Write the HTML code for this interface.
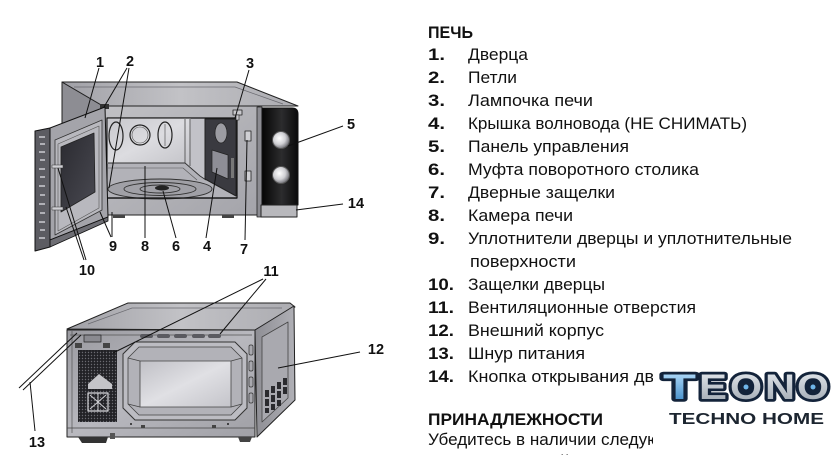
<!DOCTYPE html>
<html><head><meta charset="utf-8"><style>
html,body{margin:0;padding:0;background:#fff;}
svg{display:block;}
</style></head><body>
<svg width="840" height="475" viewBox="0 0 840 475" xmlns="http://www.w3.org/2000/svg" font-family="'Liberation Sans', sans-serif">
<defs>
<linearGradient id="gTop" x1="0" y1="0" x2="1" y2="0"><stop offset="0" stop-color="#a0a0a6"/><stop offset="0.5" stop-color="#c2c2c6"/><stop offset="1" stop-color="#acacb1"/></linearGradient>
<linearGradient id="gFront" x1="0" y1="0" x2="1" y2="1"><stop offset="0" stop-color="#c0c0c4"/><stop offset="1" stop-color="#a4a4aa"/></linearGradient>
<linearGradient id="gBack" x1="0" y1="0" x2="1" y2="1"><stop offset="0" stop-color="#c8c8cd"/><stop offset="0.5" stop-color="#dcdce0"/><stop offset="1" stop-color="#c4c4c9"/></linearGradient>
<linearGradient id="gBlack" x1="0" y1="0" x2="1" y2="0"><stop offset="0" stop-color="#050505"/><stop offset="0.55" stop-color="#2c2c2e"/><stop offset="1" stop-color="#0a0a0a"/></linearGradient>
<radialGradient id="gKnob" cx="0.4" cy="0.4" r="0.6"><stop offset="0" stop-color="#ffffff"/><stop offset="0.6" stop-color="#d0d0d4"/><stop offset="1" stop-color="#77777d"/></radialGradient>
<linearGradient id="gWin" x1="0" y1="0" x2="1" y2="1"><stop offset="0" stop-color="#2a2a30"/><stop offset="1" stop-color="#4a4a52"/></linearGradient>
<linearGradient id="gBF" x1="0" y1="0" x2="1" y2="1"><stop offset="0" stop-color="#9a9aa0"/><stop offset="0.5" stop-color="#b8b8be"/><stop offset="1" stop-color="#a0a0a6"/></linearGradient>
<linearGradient id="gInner" x1="0" y1="0" x2="1" y2="1"><stop offset="0" stop-color="#c0c0c6"/><stop offset="0.5" stop-color="#e0e0e4"/><stop offset="1" stop-color="#c4c4ca"/></linearGradient>
<linearGradient id="gSide" x1="0" y1="0" x2="1" y2="0"><stop offset="0" stop-color="#8e8e94"/><stop offset="1" stop-color="#b0b0b6"/></linearGradient>
<linearGradient id="gLogoT" x1="0" y1="0" x2="0" y2="1"><stop offset="0" stop-color="#bfe4ff"/><stop offset="1" stop-color="#2f7fc0"/></linearGradient>
<linearGradient id="gLogoS" x1="0" y1="0" x2="0" y2="1"><stop offset="0" stop-color="#e8ecf0"/><stop offset="1" stop-color="#9aa3ad"/></linearGradient>
<pattern id="dots" width="3" height="3" patternUnits="userSpaceOnUse"><rect width="3" height="3" fill="#222226"/><circle cx="1.5" cy="1.5" r="0.7" fill="#6a6a70"/></pattern>
<clipPath id="tc"><rect x="420" y="0" width="233" height="455"/></clipPath>
</defs>

<!-- ============ TOP MICROWAVE ============ -->
<g stroke-linejoin="round">
<polygon points="62,82 103,106 103,214 62,196" fill="#8d8d93" stroke="#222"/>
<polygon points="62,82 237,82 298,106 103,106" fill="url(#gTop)" stroke="#222"/>
<path d="M74,87 L235,87 L283,104" fill="none" stroke="#6a6a70" stroke-width="0.7"/>
<rect x="103" y="106" width="156" height="109" fill="url(#gFront)" stroke="#222"/>
<rect x="107" y="118" width="130" height="80" fill="#c2c2c8" stroke="#111" stroke-width="1.2"/>
<rect x="107.6" y="118.6" width="83" height="45" fill="url(#gBack)"/>
<line x1="185" y1="119" x2="185" y2="163" stroke="#444" stroke-width="0.8"/>
<line x1="190" y1="119" x2="190" y2="166" stroke="#444" stroke-width="0.8"/>
<polygon points="108,163 185,163 200,176 236,197 108,197" fill="#b2b2b8"/>
<path d="M108,163 L185,163 L200,176 L206,180" fill="none" stroke="#333" stroke-width="0.9"/>
<path d="M108,168 L183,168 L197,180" fill="none" stroke="#555" stroke-width="0.6"/>
<polygon points="205,119 236,119 236,196 205,179" fill="#3a3a40" stroke="#222"/>
<ellipse cx="221" cy="133" rx="6" ry="10" fill="#9c9ca2" stroke="#222" stroke-width="0.7"/>
<polygon points="212,150 228,155 228,179 212,172" fill="#8e8e96" stroke="#222" stroke-width="0.7"/>
<rect x="231" y="158" width="3" height="20" fill="#777"/>
<ellipse cx="160" cy="189" rx="52" ry="10" fill="#a0a0a6" stroke="#333"/>
<ellipse cx="160" cy="189" rx="36" ry="6.5" fill="none" stroke="#333" stroke-width="0.9"/>
<ellipse cx="160" cy="189" rx="20" ry="4" fill="none" stroke="#333" stroke-width="0.9"/>
<ellipse cx="162" cy="188" rx="7" ry="2.5" fill="#222"/>
<line x1="107" y1="198" x2="237" y2="198" stroke="#111" stroke-width="1.2"/>
<ellipse cx="116" cy="136" rx="7" ry="14" fill="none" stroke="#222" stroke-width="1.2"/>
<circle cx="140" cy="135" r="10" fill="none" stroke="#222" stroke-width="1.2"/>
<circle cx="140" cy="135" r="8" fill="none" stroke="#555" stroke-width="0.6"/>
<ellipse cx="165" cy="135" rx="7" ry="13" fill="none" stroke="#222" stroke-width="1.2"/>
<line x1="165" y1="124" x2="165" y2="146" stroke="#444" stroke-width="0.6"/>
<rect x="245" y="131" width="6" height="10" fill="#cfcfd3" stroke="#222" stroke-width="0.8"/>
<rect x="245" y="171" width="6" height="10" fill="#cfcfd3" stroke="#222" stroke-width="0.8"/>
<rect x="233" y="110" width="9" height="5" fill="#c8c8cc" stroke="#222" stroke-width="0.8"/>
<rect x="236" y="115" width="3" height="5" fill="#c8c8cc" stroke="#222" stroke-width="0.6"/>
<rect x="257" y="107" width="5" height="110" fill="#8c8c92" stroke="#222" stroke-width="0.8"/>
<path d="M262,108 L292,108 Q298,108 298,114 L298,205 L262,205 Z" fill="url(#gBlack)" stroke="#111"/>
<circle cx="281" cy="140" r="8.5" fill="url(#gKnob)" stroke="#555"/>
<circle cx="281" cy="175" r="8.5" fill="url(#gKnob)" stroke="#555"/>
<rect x="261" y="205" width="36" height="12" fill="#b8b8bc" stroke="#222"/>
<rect x="113" y="215" width="12" height="3" fill="#444"/>
<rect x="222" y="215" width="12" height="3" fill="#444"/>
<rect x="100" y="104" width="9" height="5" fill="#333"/>
<polygon points="50,128 105,107 108,217 50,240" fill="#a4a4aa" stroke="#111"/>
<polygon points="50,240 108,217 108,221 50,247" fill="#6e6e74" stroke="#111" stroke-width="0.8"/>
<polygon points="35,131 50,128 50,247 35,251" fill="#5c5c62" stroke="#111"/>
<g fill="#b0b0b6">
<rect x="39" y="136" width="6" height="2"/><rect x="40" y="143" width="5" height="2"/><rect x="39" y="151" width="6" height="2"/><rect x="40" y="159" width="5" height="2"/><rect x="39" y="168" width="6" height="2"/><rect x="40" y="176" width="5" height="2"/><rect x="39" y="185" width="6" height="2"/><rect x="40" y="194" width="5" height="2"/><rect x="39" y="203" width="6" height="2"/><rect x="40" y="212" width="5" height="2"/><rect x="39" y="221" width="6" height="2"/><rect x="40" y="229" width="5" height="2"/><rect x="39" y="237" width="6" height="2"/>
</g>
<polygon points="55,140 102,120 102,210 55,235" fill="#b8b8be" stroke="#333" stroke-width="0.8"/>
<polygon points="58,144 99,126 99,208 58,231" fill="none" stroke="#555" stroke-width="0.6"/>
<polygon points="61,147 94,133 95,192 61,212" fill="url(#gWin)" stroke="#222" stroke-width="0.8"/>
<rect x="52" y="165" width="11" height="3" fill="#d0d0d4" stroke="#333" stroke-width="0.5"/>
<rect x="52" y="207" width="11" height="3" fill="#d0d0d4" stroke="#333" stroke-width="0.5"/>
</g>

<g stroke="#111" stroke-width="1" fill="none">
<line x1="99" y1="68" x2="85" y2="118"/>
<line x1="127" y1="68" x2="104" y2="107"/>
<line x1="129" y1="68" x2="109" y2="188"/>
<line x1="249" y1="70" x2="235" y2="118"/>
<line x1="343" y1="126" x2="288" y2="146"/>
<line x1="343" y1="204" x2="296" y2="210"/>
<line x1="111" y1="237" x2="100" y2="212"/>
<line x1="112" y1="237" x2="112" y2="212"/>
<line x1="145" y1="238" x2="145" y2="166"/>
<line x1="176" y1="238" x2="163" y2="191"/>
<line x1="206" y1="238" x2="217" y2="168"/>
<line x1="245" y1="240" x2="247" y2="140"/>
<line x1="86" y1="260" x2="58" y2="168"/>
<line x1="84" y1="260" x2="66" y2="207"/>
</g>

<!-- ============ BOTTOM MICROWAVE ============ -->
<g stroke-linejoin="round">
<polygon points="67,329 128,303 290,303 295,307 255,330" fill="url(#gTop)" stroke="#222"/>
<path d="M88,324 L132,308 L282,308" fill="none" stroke="#6a6a70" stroke-width="0.7"/>
<rect x="67" y="330" width="188" height="107" fill="url(#gBF)" stroke="#222"/>
<line x1="72" y1="331" x2="72" y2="433" stroke="#555" stroke-width="0.7"/>
<line x1="70" y1="335" x2="252" y2="335" stroke="#555" stroke-width="0.7"/>
<g fill="#5a5a60">
<rect x="140" y="334" width="13" height="4" rx="2"/><rect x="157" y="334" width="13" height="4" rx="2"/><rect x="174" y="334" width="13" height="4" rx="2"/><rect x="192" y="334" width="13" height="4" rx="2"/><rect x="208" y="334" width="13" height="4" rx="2"/>
</g>
<rect x="84" y="335" width="17" height="7" fill="#8a8a90" stroke="#222" stroke-width="0.7"/>
<rect x="75" y="343" width="7" height="5" fill="#444"/>
<rect x="103" y="343" width="7" height="5" fill="#444"/>
<rect x="78" y="350" width="39" height="72" fill="url(#dots)"/>
<polygon points="88,384 99,374 112,384 112,389 88,389" fill="#c4c4c8"/>
<rect x="88" y="393" width="20" height="18" fill="none" stroke="#d8d8dc" stroke-width="1.2"/>
<path d="M90,395 L106,409 M106,395 L90,409 M98,393 L98,411" stroke="#d0d0d4" stroke-width="1"/>
<path d="M135,342 L235,342 L247,354 L247,408 L235,420 L135,420 L123,408 L123,354 Z" fill="#bcbcc2" stroke="#333"/>
<path d="M139,347 L231,347 L242,358 L242,404 L231,415 L139,415 L128,404 L128,358 Z" fill="#b2b2b8" stroke="#444" stroke-width="0.8"/>
<rect x="140" y="361" width="91" height="46" fill="url(#gInner)" stroke="#444" stroke-width="0.8"/>
<path d="M128,358 L140,361 M242,358 L231,361 M242,404 L231,407 M128,404 L140,407" stroke="#444" stroke-width="0.8"/>
<g fill="#a8a8ae" stroke="#333" stroke-width="0.7">
<rect x="249" y="345" width="4" height="10" rx="1.5"/><rect x="249" y="361" width="4" height="10" rx="1.5"/><rect x="249" y="377" width="4" height="10" rx="1.5"/><rect x="249" y="393" width="4" height="10" rx="1.5"/>
</g>
<line x1="67" y1="428" x2="255" y2="428" stroke="#444" stroke-width="0.8"/>
<circle cx="131" cy="424" r="1" fill="#222"/><circle cx="228" cy="424" r="1" fill="#222"/>
<rect x="141" y="425" width="4" height="3" fill="#444"/><rect x="212" y="425" width="4" height="3" fill="#444"/>
<path d="M78,437 L108,437 L106,443 L82,443 Z" fill="#333"/>
<rect x="110" y="433" width="5" height="6" fill="#555"/>
<path d="M238,437 L252,437 L250,442 L240,442 Z" fill="#444"/>
<polygon points="255,330 294,306 295,400 257,437" fill="url(#gSide)" stroke="#222"/>
<polygon points="262,337 288,322 288,398 262,422" fill="#a9a9af" stroke="#444" stroke-width="0.8"/>
<g fill="#2a2a2e">
<rect x="265" y="390" width="4" height="7"/><rect x="271" y="386" width="4" height="7"/><rect x="277" y="382" width="4" height="7"/><rect x="283" y="378" width="4" height="7"/>
<rect x="265" y="399" width="4" height="7"/><rect x="271" y="395" width="4" height="7"/><rect x="277" y="391" width="4" height="7"/><rect x="283" y="387" width="4" height="7"/>
<rect x="265" y="408" width="4" height="5"/><rect x="271" y="404" width="4" height="6"/><rect x="277" y="400" width="4" height="6"/>
</g>
</g>

<g stroke="#111" stroke-width="1" fill="none">
<line x1="266" y1="279" x2="220" y2="334"/>
<line x1="263" y1="279" x2="113" y2="353"/>
<line x1="360" y1="352" x2="278" y2="368"/>
<line x1="35" y1="431" x2="30" y2="382"/>
<line x1="77" y1="333" x2="19" y2="388"/>
<line x1="81" y1="335" x2="23" y2="390"/>
</g>

<g font-weight="bold" font-size="14.5" fill="#111" text-anchor="middle">
<text x="100" y="67">1</text>
<text x="130" y="66">2</text>
<text x="250" y="68">3</text>
<text x="351" y="129">5</text>
<text x="356" y="208">14</text>
<text x="113" y="251">9</text>
<text x="145" y="251">8</text>
<text x="176" y="251">6</text>
<text x="207" y="251">4</text>
<text x="244" y="254">7</text>
<text x="87" y="275">10</text>
<text x="271" y="276">11</text>
<text x="376" y="354">12</text>
<text x="37" y="447">13</text>
</g>

<!-- ============ TEXT LIST ============ -->
<g fill="#111" font-size="16.5">
<text x="428" y="38" font-weight="bold" textLength="45" lengthAdjust="spacingAndGlyphs">ПЕЧЬ</text>
<g font-weight="bold">
<text x="428" y="60" textLength="17" lengthAdjust="spacingAndGlyphs">1.</text>
<text x="428" y="83" textLength="17" lengthAdjust="spacingAndGlyphs">2.</text>
<text x="428" y="106" textLength="17" lengthAdjust="spacingAndGlyphs">3.</text>
<text x="428" y="129" textLength="17" lengthAdjust="spacingAndGlyphs">4.</text>
<text x="428" y="152" textLength="17" lengthAdjust="spacingAndGlyphs">5.</text>
<text x="428" y="175" textLength="17" lengthAdjust="spacingAndGlyphs">6.</text>
<text x="428" y="198" textLength="17" lengthAdjust="spacingAndGlyphs">7.</text>
<text x="428" y="221" textLength="17" lengthAdjust="spacingAndGlyphs">8.</text>
<text x="428" y="244" textLength="17" lengthAdjust="spacingAndGlyphs">9.</text>
<text x="428" y="290" textLength="26" lengthAdjust="spacingAndGlyphs">10.</text>
<text x="428" y="313" textLength="26" lengthAdjust="spacingAndGlyphs">11.</text>
<text x="428" y="336" textLength="26" lengthAdjust="spacingAndGlyphs">12.</text>
<text x="428" y="359" textLength="26" lengthAdjust="spacingAndGlyphs">13.</text>
<text x="428" y="382" textLength="26" lengthAdjust="spacingAndGlyphs">14.</text>
</g>
<text x="468" y="60" textLength="60" lengthAdjust="spacingAndGlyphs">Дверца</text>
<text x="468" y="83" textLength="49" lengthAdjust="spacingAndGlyphs">Петли</text>
<text x="468" y="106" textLength="125" lengthAdjust="spacingAndGlyphs">Лампочка печи</text>
<text x="468" y="129" textLength="279" lengthAdjust="spacingAndGlyphs">Крышка волновода (НЕ СНИМАТЬ)</text>
<text x="468" y="152" textLength="161" lengthAdjust="spacingAndGlyphs">Панель управления</text>
<text x="468" y="175" textLength="231" lengthAdjust="spacingAndGlyphs">Муфта поворотного столика</text>
<text x="468" y="198" textLength="147" lengthAdjust="spacingAndGlyphs">Дверные защелки</text>
<text x="468" y="221" textLength="105" lengthAdjust="spacingAndGlyphs">Камера печи</text>
<text x="468" y="244" textLength="324" lengthAdjust="spacingAndGlyphs">Уплотнители дверцы и уплотнительные</text>
<text x="470" y="267" textLength="106" lengthAdjust="spacingAndGlyphs">поверхности</text>
<text x="468" y="290" textLength="137" lengthAdjust="spacingAndGlyphs">Защелки дверцы</text>
<text x="468" y="313" textLength="228" lengthAdjust="spacingAndGlyphs">Вентиляционные отверстия</text>
<text x="468" y="336" textLength="136" lengthAdjust="spacingAndGlyphs">Внешний корпус</text>
<text x="468" y="359" textLength="117" lengthAdjust="spacingAndGlyphs">Шнур питания</text>
<g clip-path="url(#tc)">
<text x="468" y="382" textLength="186" lengthAdjust="spacingAndGlyphs">Кнопка открывания дв</text>
<text x="428" y="445" textLength="232" lengthAdjust="spacingAndGlyphs">Убедитесь в наличии следую</text>
<text x="428" y="467" textLength="240" lengthAdjust="spacingAndGlyphs">(15) Поворотный столик (16)</text>
</g>
<text x="428" y="425" font-weight="bold" textLength="175" lengthAdjust="spacingAndGlyphs">ПРИНАДЛЕЖНОСТИ</text>
</g>

<!-- ============ LOGO ============ -->
<g font-weight="bold" font-size="35" stroke="#13233a" stroke-width="5.5" paint-order="stroke" stroke-linejoin="round">
<text x="663" y="399" fill="url(#gLogoT)" textLength="33" lengthAdjust="spacingAndGlyphs">T</text>
<text x="699" y="399" fill="url(#gLogoS)" textLength="28" lengthAdjust="spacingAndGlyphs">E</text>
<text x="730" y="399" fill="url(#gLogoS)" textLength="32" lengthAdjust="spacingAndGlyphs">O</text>
<text x="765" y="399" fill="url(#gLogoS)" textLength="30" lengthAdjust="spacingAndGlyphs">N</text>
<text x="797" y="399" fill="url(#gLogoS)" textLength="32" lengthAdjust="spacingAndGlyphs">O</text>
</g>
<circle cx="746" cy="387" r="6.5" fill="#13233a"/><circle cx="746" cy="387" r="2.5" fill="#6fb6ea"/>
<circle cx="813" cy="387" r="6.5" fill="#13233a"/><circle cx="813" cy="387" r="2.5" fill="#6fb6ea"/>
<text x="669" y="424" font-weight="bold" font-size="15.5" fill="#1c2530" textLength="155" lengthAdjust="spacingAndGlyphs">TECHNO HOME</text>
</svg>
</body></html>
